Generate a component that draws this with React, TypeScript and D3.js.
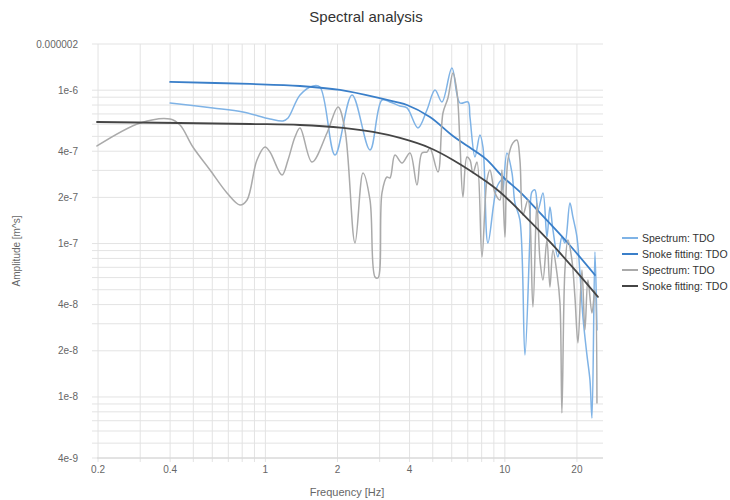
import React from "react";
import * as d3 from "d3";

const title = "Spectral analysis";
const xTitle = "Frequency [Hz]";
const yTitle = "Amplitude [m^s]";

const xTickValues = [0.2, 0.4, 1, 2, 4, 10, 20];
const xTickLabels = ["0.2", "0.4", "1", "2", "4", "10", "20"];
const yTickValues = [2e-6, 1e-6, 4e-7, 2e-7, 1e-7, 4e-8, 2e-8, 1e-8, 4e-9];
const yTickLabels = ["0.000002", "1e-6", "4e-7", "2e-7", "1e-7", "4e-8", "2e-8", "1e-8", "4e-9"];

const seriesNames = ["Spectrum: TDO", "Snoke fitting: TDO", "Spectrum: TDO", "Snoke fitting: TDO"];
const seriesColors = ["#7fb3e6", "#3a7fc9", "#aaaaaa", "#454545"];

// [frequency Hz, amplitude]
const spectrumBlue: [number, number][] = [
  [0.4, 0.825e-6], [0.604, 0.766e-6], [0.806, 0.721e-6], [1.045, 0.649e-6], [1.184, 0.63e-6],
  [1.243, 0.659e-6], [1.395, 0.93e-6], [1.58, 1.065e-6], [1.69, 1.049e-6], [1.953, 0.378e-6],
  [2.3, 0.93e-6], [2.734, 0.4075e-6], [3.068, 0.863e-6], [3.313, 0.838e-6], [3.648, 0.789e-6],
  [3.902, 0.766e-6], [4.337, 0.567e-6], [4.728, 0.743e-6], [5.107, 1.003e-6], [5.463, 0.838e-6],
  [6.013, 1.395e-6], [6.494, 0.825e-6], [7.013, 0.838e-6], [7.149, 0.669e-6], [7.503, 0.367e-6],
  [7.87, 0.51e-6], [8.102, 0.426e-6], [8.5, 0.101e-6], [9.268, 0.234e-6], [9.725, 0.26e-6],
  [9.82, 0.224e-6], [10.2, 0.39e-6], [10.71, 0.2885e-6], [11.02, 0.184e-6], [11.56, 0.1425e-6],
  [12.13, 0.0188e-6], [12.73, 0.1104e-6], [12.98, 0.217e-6], [13.36, 0.2236e-6], [13.75, 0.1656e-6],
  [14.43, 0.2138e-6], [14.99, 0.1104e-6], [15.43, 0.1732e-6], [15.88, 0.1227e-6], [16.66, 0.0818e-6],
  [17.31, 0.1104e-6], [17.82, 0.1009e-6], [18.7, 0.1839e-6], [19.24, 0.1491e-6], [20.0, 0.1104e-6],
  [20.59, 0.0643e-6], [21.19, 0.0332e-6], [22.02, 0.0188e-6], [22.67, 0.0129e-6], [23.11, 0.00729e-6],
  [23.78, 0.0882e-6], [24.25, 0.0273e-6],
];

const fitBlue: [number, number][] = [
  [0.4, 1.131e-6], [0.862, 1.098e-6], [1.395, 1.065e-6], [2.049, 1.003e-6], [3.097, 0.876e-6],
  [3.902, 0.8007e-6], [4.867, 0.669e-6], [6.071, 0.503e-6], [7.503, 0.4014e-6], [8.42, 0.351e-6],
  [9.82, 0.2716e-6], [11.56, 0.217e-6], [14.02, 0.1583e-6], [18.17, 0.1024e-6], [23.78, 0.0624e-6],
];

const spectrumGray: [number, number][] = [
  [0.198, 0.4327e-6], [0.3, 0.611e-6], [0.4, 0.649e-6], [0.44, 0.593e-6], [0.498, 0.426e-6],
  [0.587, 0.302e-6], [0.691, 0.214e-6], [0.783, 0.1785e-6], [0.838, 0.1924e-6], [0.922, 0.351e-6],
  [0.996, 0.426e-6], [1.045, 0.395e-6], [1.173, 0.28e-6], [1.243, 0.351e-6], [1.329, 0.495e-6],
  [1.395, 0.567e-6], [1.565, 0.34e-6], [1.808, 0.526e-6], [2.01, 0.777e-6], [2.15, 0.55e-6],
  [2.367, 0.101e-6], [2.556, 0.2885e-6], [2.734, 0.1924e-6], [2.869, 0.0606e-6], [2.953, 0.0597e-6],
  [3.068, 0.214e-6], [3.219, 0.2716e-6], [3.313, 0.2676e-6], [3.476, 0.378e-6], [3.719, 0.335e-6],
  [4.016, 0.39e-6], [4.295, 0.241e-6], [4.507, 0.39e-6], [4.728, 0.395e-6], [4.867, 0.42e-6],
  [5.257, 0.293e-6], [5.515, 0.71e-6], [5.786, 0.8895e-6], [6.071, 1.294e-6], [6.31, 0.973e-6],
  [6.494, 0.453e-6], [6.684, 0.201e-6], [6.946, 0.367e-6], [7.149, 0.351e-6], [7.36, 0.2885e-6],
  [7.648, 0.34e-6], [8.024, 0.0818e-6], [8.42, 0.26e-6], [8.666, 0.302e-6], [9.095, 0.214e-6],
  [9.54, 0.1924e-6], [9.725, 0.302e-6], [10.01, 0.1104e-6], [10.3, 0.351e-6], [10.81, 0.453e-6],
  [11.23, 0.4735e-6], [11.56, 0.351e-6], [11.9, 0.1536e-6], [12.49, 0.1924e-6], [13.1, 0.0386e-6],
  [13.61, 0.1839e-6], [14.02, 0.0781e-6], [14.43, 0.0579e-6], [14.99, 0.1055e-6], [15.43, 0.0521e-6],
  [15.88, 0.0908e-6], [16.5, 0.0643e-6], [16.99, 0.041e-6], [17.31, 0.00787e-6], [17.82, 0.0673e-6],
  [18.34, 0.1055e-6], [19.06, 0.0781e-6], [19.62, 0.0449e-6], [20.2, 0.0225e-6], [20.99, 0.0673e-6],
  [21.6, 0.0273e-6], [22.23, 0.0579e-6], [23.11, 0.0353e-6], [23.78, 0.0498e-6], [24.25, 0.00914e-6],
];

const fitDark: [number, number][] = [
  [0.198, 0.62e-6], [0.862, 0.602e-6], [1.395, 0.593e-6], [2.109, 0.567e-6], [2.814, 0.534e-6],
  [3.648, 0.488e-6], [4.867, 0.42e-6], [6.071, 0.351e-6], [8.42, 0.252e-6], [9.54, 0.217e-6],
  [11.56, 0.163e-6], [15.43, 0.1024e-6], [19.62, 0.0673e-6], [24.48, 0.0449e-6],
];

const allSeries = [spectrumBlue, fitBlue, spectrumGray, fitDark];

export default function App() {
  const W = 730;
  const H = 500;
  const left = 97;
  const right = 603;
  const top = 44;
  const bottom = 458;

  const x = d3.scaleLog().domain([0.198, 25.7]).range([left, right]);
  const y = d3.scaleLog().domain([4e-9, 2e-6]).range([bottom, top]);

  const xGrid: number[] = [];
  const yGrid: number[] = [];
  for (let k = -1; k <= 1; k++) {
    for (let n = 1; n <= 9; n++) {
      const v = n * Math.pow(10, k);
      if (v >= 0.199 && v <= 25.7) xGrid.push(v);
    }
  }
  for (let k = -9; k <= -6; k++) {
    for (let n = 1; n <= 9; n++) {
      const v = n * Math.pow(10, k);
      if (v >= 3.99e-9 && v <= 2.01e-6) yGrid.push(v);
    }
  }

  const line = d3
    .line<[number, number]>()
    .x((d) => x(d[0]))
    .y((d) => y(d[1]))
    .curve(d3.curveCatmullRom.alpha(0.5));

  const font = "'Liberation Sans', Arial, sans-serif";
  const widths = [1.5, 1.8, 1.5, 1.8];

  return (
    <svg
      width={W}
      height={H}
      style={{ position: "absolute", left: 0, top: 0, background: "#fff" }}
      fontFamily={font}
    >
      <rect x={0} y={0} width={W} height={H} fill="#fff" />
      <text x={366} y={22} textAnchor="middle" fontSize={15} fill="#333">
        {title}
      </text>
      <g>
        {yGrid.map((v, i) => (
          <line key={"yg" + i} x1={92} x2={right} y1={y(v)} y2={y(v)} stroke="#e3e3e3" strokeWidth={1} />
        ))}
        {xGrid.map((v, i) => (
          <line key={"xg" + i} x1={x(v)} x2={x(v)} y1={top} y2={bottom + 4} stroke="#e3e3e3" strokeWidth={1} />
        ))}
        <line x1={left} x2={right} y1={bottom} y2={bottom} stroke="#d4d4d4" strokeWidth={1} />
      </g>
      <g fontSize={10} fill="#666">
        {yTickValues.map((v, i) => (
          <text key={"yt" + i} x={78} y={y(v) + 3.5} textAnchor="end">
            {yTickLabels[i]}
          </text>
        ))}
        {xTickValues.map((v, i) => (
          <text key={"xt" + i} x={x(v)} y={473} textAnchor="middle">
            {xTickLabels[i]}
          </text>
        ))}
      </g>
      <text
        transform={`translate(20,251) rotate(-90)`}
        textAnchor="middle"
        fontSize={10}
        fill="#666"
      >
        {yTitle}
      </text>
      <text x={347} y={496} textAnchor="middle" fontSize={11} fill="#666">
        {xTitle}
      </text>
      <g fill="none">
        {allSeries.map((s, i) => (
          <path
            key={"s" + i}
            d={line(s) || ""}
            stroke={seriesColors[i]}
            strokeWidth={widths[i]}
            strokeLinejoin="round"
            strokeLinecap="round"
          />
        ))}
      </g>
      <g fontSize={10.5} fill="#333">
        {seriesNames.map((n, i) => (
          <g key={"lg" + i} transform={`translate(622,${238 + i * 16})`}>
            <line x1={0} x2={16} y1={0} y2={0} stroke={seriesColors[i]} strokeWidth={2} />
            <text x={20} y={4}>
              {n}
            </text>
          </g>
        ))}
      </g>
    </svg>
  );
}
